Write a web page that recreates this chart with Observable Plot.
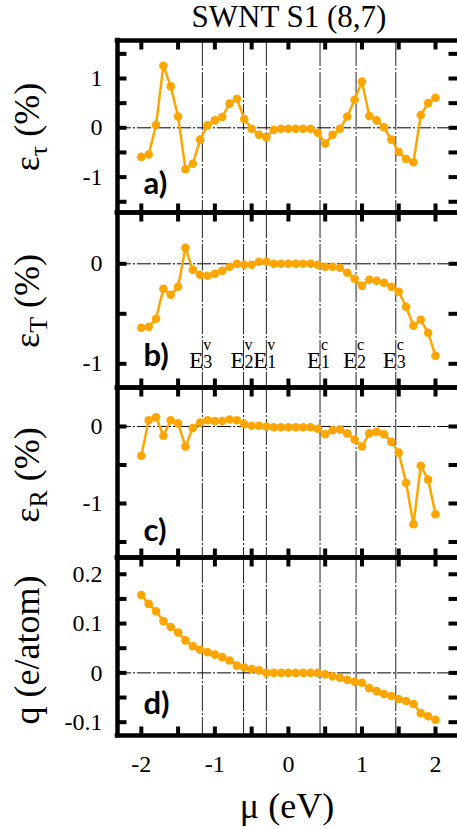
<!DOCTYPE html>
<html><head><meta charset="utf-8">
<script src="https://cdn.jsdelivr.net/npm/d3@7"></script>
<script src="https://cdn.jsdelivr.net/npm/@observablehq/plot@0.6"></script>
<style>
body{margin:0;background:#fff;}
#wrap{position:relative;width:457px;height:829px;overflow:hidden;background:#fff;}
#wrap svg{position:absolute;left:0;}
</style></head><body><div id="wrap"></div>
<script>
// ---- data ----
const mu = [-2.0,-1.9,-1.8,-1.7,-1.6,-1.5,-1.4,-1.3,-1.2,-1.1,-1.0,-0.9,-0.8,-0.7,-0.6,-0.5,-0.4,-0.3,-0.2,-0.1,0.0,0.1,0.2,0.3,0.4,0.5,0.6,0.7,0.8,0.9,1.0,1.1,1.2,1.3,1.4,1.5,1.6,1.7,1.8,1.9,2.0];
const epsTau = [-0.59,-0.54,0.06,1.26,0.84,0.23,-0.84,-0.73,-0.24,0.05,0.15,0.22,0.49,0.59,0.18,-0.02,-0.14,-0.19,-0.04,-0.02,-0.02,-0.02,-0.02,-0.02,-0.10,-0.32,-0.14,-0.02,0.23,0.57,0.94,0.24,0.15,0.01,-0.24,-0.49,-0.63,-0.70,0.26,0.50,0.61];
const epsT = [-0.64,-0.63,-0.55,-0.25,-0.31,-0.23,0.16,-0.06,-0.11,-0.12,-0.10,-0.07,-0.03,0.00,-0.01,-0.01,0.02,0.02,0.00,0.00,0.00,0.00,0.00,0.00,-0.01,-0.03,-0.03,-0.04,-0.09,-0.15,-0.22,-0.16,-0.17,-0.19,-0.23,-0.28,-0.43,-0.62,-0.56,-0.69,-0.92];
const epsR = [-0.38,0.08,0.12,-0.12,0.08,0.04,-0.26,-0.02,0.05,0.08,0.07,0.07,0.09,0.08,0.03,0.01,0.01,0.00,-0.01,-0.01,-0.01,-0.01,-0.01,-0.01,-0.03,-0.10,-0.05,-0.04,-0.09,-0.17,-0.26,-0.09,-0.07,-0.10,-0.20,-0.34,-0.73,-1.27,-0.51,-0.69,-1.14];
const charge = [0.158,0.140,0.125,0.105,0.093,0.082,0.066,0.054,0.047,0.042,0.037,0.032,0.025,0.015,0.011,0.008,0.005,0.000,0.000,0.000,0.000,0.000,0.000,0.000,0.000,-0.003,-0.007,-0.010,-0.014,-0.018,-0.020,-0.031,-0.037,-0.043,-0.047,-0.053,-0.057,-0.063,-0.082,-0.088,-0.095];

const xTicks = [-2,-1.5,-1,-0.5,0,0.5,1,1.5,2];
const xTickLabels = [-2,-1,0,1,2];
const edgePos = [-1.17,-0.61,-0.30,0.43,0.92,1.46];
const edgeSub = ["3","2","1","1","2","3"];
const edgeSup = ["v","v","v","c","c","c"];

const tauTicks = [-1.5,-1,-0.5,0,0.5,1,1.5], tauLabels = [-1,0,1];
const TTicks = [-1,-0.5,0], TLabels = [-1,0];
const RTicks = [-1.5,-1,-0.5,0], RLabels = [-1,0];
const qTicks = [-0.1,-0.05,0,0.05,0.1,0.15,0.2], qLabels = [-0.1,0,0.1,0.2];

const panelLabels = ["a)","b)","c)","d)"];
const titleText = "SWNT S1 (8,7)";
const xTitle = "\u03bc (eV)";
const yTitleMain = ["\u03b5", "\u03b5", "\u03b5", "q (e/atom)"];
const yTitleSub = ["\u03c4", "T", "R", ""];
const yTitleTail = [" (%)", " (%)", " (%)", ""];

// ---- layout ----
const W = 457, mL = 117, mR = 0;
const xDomain = [-2.324, 2.299];
const ORANGE = "#ffa500";
const SERIF = "Liberation Serif";
const wrap = document.getElementById("wrap");

function serifize(svg) {
  svg.querySelectorAll("text").forEach(t => {
    const g = t.parentElement.closest("g[font-family]");
    if (!g) t.setAttribute("font-family", SERIF);
  });
}

function panel(o) {
  const mT = 2, mB = o.bottomAxis ? 94 : 2;
  const H = mT + o.innerH + mB;
  const pxX = (W - mL - mR) / (xDomain[1] - xDomain[0]);
  const pxY = o.innerH / (o.yDomain[1] - o.yDomain[0]);
  const tx = 9 / pxX, ty = 9 / pxY;
  const data = mu.map((m, i) => ({mu: m, v: o.values[i]}));
  const tickStyle = {stroke: "#000", strokeWidth: 4};
  const marks = [
    Plot.ruleX(edgePos, {stroke: "#222", strokeWidth: 1, strokeDasharray: "26,2,2,2"}),
    Plot.ruleY([0], {stroke: "#000", strokeWidth: 1, strokeDasharray: "14,2,2,2"}),
    Plot.line(data, {x: "mu", y: "v", stroke: ORANGE, strokeWidth: 2.5}),
    Plot.dot(data, {x: "mu", y: "v", fill: ORANGE, r: 4.3}),
    Plot.link(o.yTicks, {x1: xDomain[0], x2: xDomain[0] + tx, y1: d => d, y2: d => d, ...tickStyle}),
    Plot.link(o.yTicks, {x1: xDomain[1] - tx, x2: xDomain[1], y1: d => d, y2: d => d, ...tickStyle}),
    Plot.link(xTicks, {x1: d => d, x2: d => d, y1: o.yDomain[0], y2: o.yDomain[0] + ty, ...tickStyle}),
    Plot.link(xTicks, {x1: d => d, x2: d => d, y1: o.yDomain[1] - ty, y2: o.yDomain[1], ...tickStyle}),
    Plot.ruleX([xDomain[0]], {stroke: "#000", strokeWidth: 4.5, strokeLinecap: "square"}),
    Plot.ruleY(o.yDomain, {stroke: "#000", strokeWidth: 4.5, strokeLinecap: "square"}),
    Plot.text([o.label], {frameAnchor: "bottom-left", dx: 26, dy: o.labelDy, textAnchor: "start", lineAnchor: "bottom",
      fontFamily: "Lato", fontWeight: "bold", fontSize: 31, fill: "#000"})
  ];
  if (o.edges) {
    marks.push(
      Plot.text(edgePos, {x: d => d, frameAnchor: "bottom", dy: -20, text: () => "E", textAnchor: "end", lineAnchor: "bottom", dx: 1, fontFamily: SERIF, fontSize: 23, fill: "#000"}),
      Plot.text(edgePos, {x: d => d, frameAnchor: "bottom", dy: -20, text: (d, i) => edgeSub[i], textAnchor: "start", lineAnchor: "bottom", dx: 1, fontFamily: SERIF, fontSize: 18, fill: "#000"}),
      Plot.text(edgePos, {x: d => d, frameAnchor: "bottom", dy: -38, text: (d, i) => edgeSup[i], textAnchor: "start", lineAnchor: "bottom", dx: 1, fontFamily: SERIF, fontSize: 16, fill: "#000"})
    );
  }
  const svg = Plot.plot({
    width: W, height: H,
    marginLeft: mL, marginRight: mR, marginTop: mT, marginBottom: mB,
    style: {fontFamily: SERIF, fontSize: "24px", background: "transparent", overflow: "visible", color: "#000"},
    x: o.bottomAxis
      ? {domain: xDomain, ticks: xTickLabels, tickSize: 0, tickPadding: 19, tickFormat: d => String(d), label: null}
      : {domain: xDomain, axis: null},
    y: {domain: o.yDomain, ticks: o.yLabels, tickSize: 0, tickPadding: 15, tickFormat: d => String(d), label: null},
    marks
  });
  serifize(svg);
  svg.style.top = (o.frameTop - mT) + "px";
  wrap.appendChild(svg);
}

panel({values: epsTau, yDomain: [-1.718, 1.771], yTicks: tauTicks, yLabels: tauLabels, label: panelLabels[0], labelDy: -19, frameTop: 40, innerH: 172});
panel({values: epsT, yDomain: [-1.237, 0.513], yTicks: TTicks, yLabels: TLabels, label: panelLabels[1], labelDy: -22, frameTop: 212, innerH: 175, edges: true});
panel({values: epsR, yDomain: [-1.701, 0.506], yTicks: RTicks, yLabels: RLabels, label: panelLabels[2], labelDy: -17, frameTop: 387, innerH: 170});
panel({values: charge, yDomain: [-0.127, 0.234], yTicks: qTicks, yLabels: qLabels, label: panelLabels[3], labelDy: -22, frameTop: 557, innerH: 178, bottomAxis: true});

// ---- titles (SVG text overlay) ----
const over = d3.select(wrap).append("svg")
  .attr("width", W).attr("height", 829)
  .style("top", "0px").style("pointer-events", "none")
  .attr("font-family", SERIF).attr("fill", "#000");
over.append("text").attr("x", 289).attr("y", 27).attr("text-anchor", "middle")
  .attr("font-family", SERIF).attr("font-size", 31).text(titleText);
over.append("text").attr("x", 287).attr("y", 818).attr("text-anchor", "middle")
  .attr("font-family", SERIF).attr("font-size", 36).text(xTitle);
const yCenters = [127, 301, 475, 650];
yCenters.forEach((cy, i) => {
  const t = over.append("text")
    .attr("transform", `translate(39,${cy}) rotate(-90)`)
    .attr("text-anchor", "middle")
    .attr("font-family", SERIF).attr("font-size", 36);
  t.append("tspan").text(yTitleMain[i]);
  if (yTitleSub[i]) {
    t.append("tspan").attr("font-size", 26).attr("dy", 8).text(yTitleSub[i]);
    t.append("tspan").attr("dy", -8).text(yTitleTail[i]);
  }
});
</script></body></html>
